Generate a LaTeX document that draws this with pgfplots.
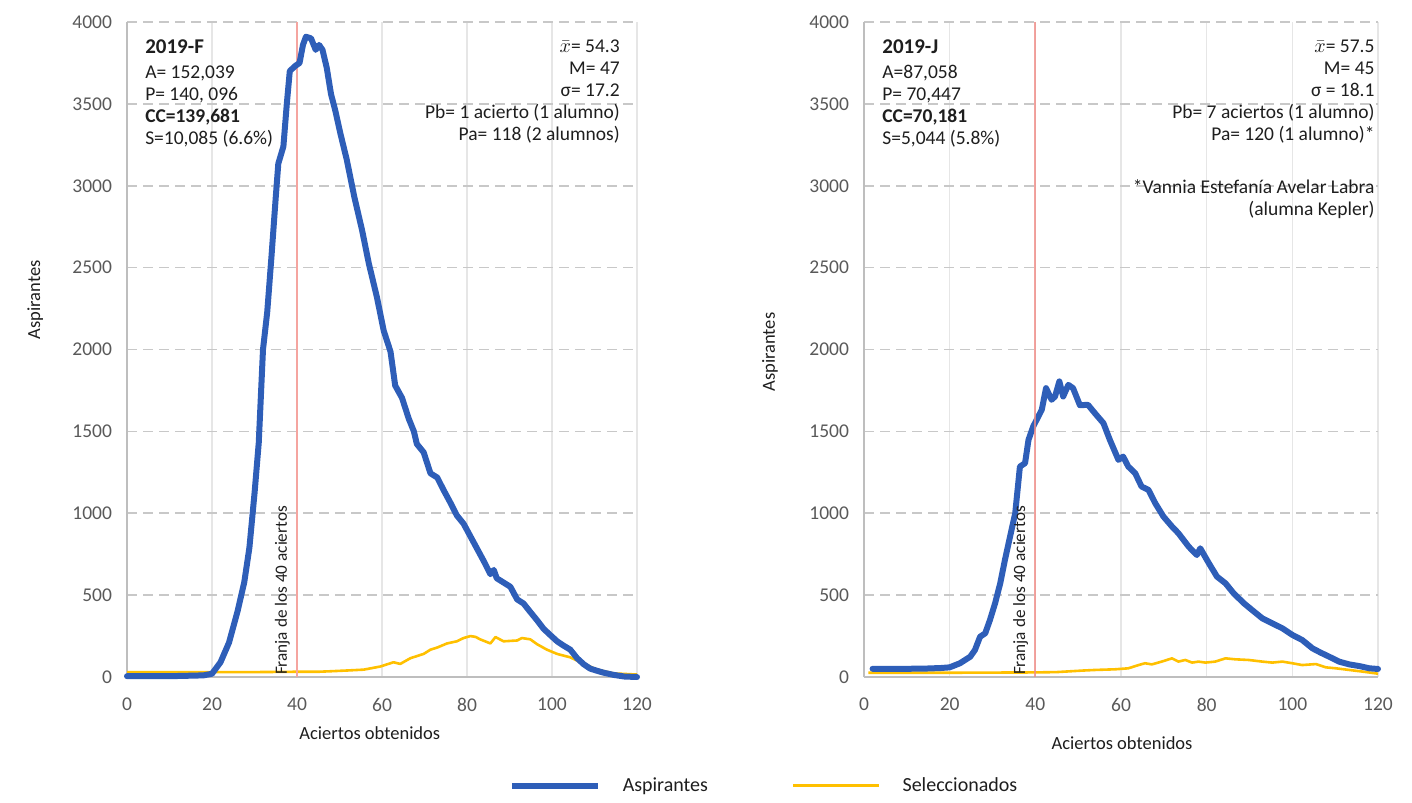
\documentclass[border=0pt]{standalone}
\usepackage{fontspec}
\setmainfont{Carlito}
\usepackage{pgfplots}
\pgfplotsset{compat=1.18}
\definecolor{aspblue}{RGB}{46,94,184}
\definecolor{selyel}{RGB}{255,192,0}
\definecolor{franja}{RGB}{245,165,160}
\definecolor{tickgray}{RGB}{89,89,89}
\definecolor{txt}{RGB}{30,30,30}
\definecolor{gridgray}{RGB}{200,200,200}
\definecolor{vgrid}{RGB}{230,230,230}
\definecolor{axgray}{RGB}{190,190,190}

\tikzset{
  franja text/.style={anchor=south west, rotate=90, inner sep=0pt, font=\fontsize{8.6}{9}\selectfont, text=txt},
  stats/.style={inner sep=0pt, text=txt, font=\fontsize{9.75}{11}\selectfont},
}
\pgfplotsset{
  mystyle/.style={
    scale only axis, height=327.5pt,
    xmin=0, xmax=120, ymin=0, ymax=4000,
    xtick={0,20,...,120}, ytick={0,500,...,4000},
    axis x line*=bottom, axis y line*=left,
    axis line style={-, axgray, line width=1pt},
    major tick length=0pt,
    grid=major,
    x grid style={vgrid, line width=0.7pt},
    y grid style={gridgray, line width=0.8pt, dash pattern=on 5pt off 3pt},
    tick label style={font=\fontsize{9.75}{11}\selectfont, color=tickgray},
    xticklabel style={yshift=-7pt},
    yticklabel style={xshift=-4pt},
    /pgf/number format/assume math mode=true,
    /pgf/number format/set thousands separator={},
    label style={font=\fontsize{9.25}{11}\selectfont, color=txt},
    clip=false,
  },
  blue line/.style={color=aspblue, line width=3pt, line join=round, line cap=round},
  yel line/.style={color=selyel, line width=1.3pt, line join=round},
}

\begin{document}
\begin{tikzpicture}
\path (0,0) rectangle (706pt,398.5pt);

% ---------------- Left: 2019-F ----------------
\begin{axis}[mystyle, width=255pt,
  at={(63.5pt,60pt)}, anchor=south west,
  xlabel={Aciertos obtenidos}, ylabel={Aspirantes},
  xlabel style={at={(axis description cs:0.476,0)}, anchor=center, yshift=-28pt},
  ylabel style={at={(axis description cs:-0.18,0.576)}, anchor=center},
  legend style={at={(1.251,-0.166)}, anchor=center, draw=none, fill=none,
    legend columns=2, font=\fontsize{10}{12}\selectfont, text=txt,
    /tikz/column 1/.style={column sep=9pt},
    /tikz/column 2/.style={column sep=40pt},
    /tikz/column 3/.style={column sep=9pt}},
  legend image code/.code={\draw[#1, line cap=butt] (0pt,0pt) -- (43pt,0pt);},
]
\addplot[yel line, forget plot] coordinates {
(0,30) (10,30) (20,30) (30,30) (40,32) (45,32) (47.8,35) (52,40) (55.7,45)
(59.6,64) (62.7,90) (64.3,80) (66.7,115) (69.8,141) (71.4,167) (73,180)
(75.3,205) (77.6,218) (79.2,238) (80.8,250) (82,245) (83.1,230) (85.5,205)
(86.7,244) (88.6,218) (91.8,223) (92.9,238) (94.9,230) (96.5,200) (98.8,167)
(101.2,141) (104.3,120) (106.7,90) (110.6,45) (114.5,22) (120,15)};
\addplot[color=franja, line width=0.8pt, forget plot] coordinates {(40,0) (40,4000)};
\addplot[blue line] coordinates {
(0,5) (5,5) (10,5) (15,8) (18,10) (20,20) (22,90) (24,210) (26,400)
(27.6,580) (28.8,790) (30,1120) (31,1430) (32,2000) (33,2230) (34,2570)
(35,2930) (35.6,3135) (36.8,3240) (37.6,3500) (38.3,3700) (39.5,3730)
(40.6,3750) (41.4,3860) (42.1,3910) (43.3,3900) (44.4,3830) (45.2,3860)
(46,3830) (47,3720) (48,3560) (49,3460) (50.2,3320) (51.7,3160) (53.5,2930)
(55.3,2730) (56.9,2525) (58.8,2320) (60.4,2115) (62,1987) (63.1,1780)
(64.7,1705) (66.3,1577) (67.5,1500) (68.2,1423) (69.8,1372) (71.4,1244)
(73,1218) (74.5,1141) (76.1,1064) (77.6,987) (79.2,936) (80.8,859)
(82.4,782) (84,705) (85.5,628) (86.3,654) (87,603) (88.6,577) (90.2,551)
(91.8,474) (93.3,449) (94.9,397) (96.5,346) (98,295) (99.6,256) (101.2,218)
(102.7,192) (104.3,167) (105.9,115) (107.5,77) (109,51) (110.6,38)
(112.2,26) (114.5,13) (117,3) (120,0)};
\addlegendentry{Aspirantes}
\addlegendimage{yel line}
\addlegendentry{Seleccionados}
\node[franja text] at (axis cs:38.4,10) {Franja de los 40 aciertos};
\node[stats, anchor=north west, align=left] at (rel axis cs:0.035,0.973)
  {{\fontsize{10.5}{11}\selectfont\textbf{2019-F}}\\[1.5pt]A= 152,039\\P= 140, 096\\\textbf{CC=139,681}\\S=10,085 (6.6\%)};
\node[stats, anchor=north east, align=right] at (rel axis cs:0.967,0.973)
  {$\bar{x}$= 54.3\\M= 47\\σ= 17.2\\Pb= 1 acierto (1 alumno)\\Pa= 118 (2 alumnos)};
\end{axis}

% ---------------- Right: 2019-J ----------------
\begin{axis}[mystyle, width=257pt,
  at={(432pt,60pt)}, anchor=south west,
  xlabel={Aciertos obtenidos}, ylabel={Aspirantes},
  xlabel style={at={(axis description cs:0.502,0)}, anchor=center, yshift=-33pt},
  ylabel style={at={(axis description cs:-0.183,0.496)}, anchor=center},
]
\addplot[yel line, forget plot] coordinates {
(1,26) (20,26) (40,28) (45,30) (50.8,39) (53.9,43) (58.6,47) (61.7,53)
(64.1,73) (65.6,84) (67.2,77) (69.5,94) (71.9,114) (73.4,94) (75,104)
(76.6,88) (78.1,94) (79.7,88) (82,94) (84.4,114) (86.7,108) (89.8,104)
(93,94) (95.3,88) (97.7,94) (100,84) (102.3,73) (105.5,79) (107.8,59)
(110.2,53) (113.3,43) (116.4,33) (119.5,22) (120,20)};
\addplot[blue line, forget plot] coordinates {
(2,50) (5,50) (10,50) (15,52) (18,55) (20,59) (22.4,84) (24.8,124) (25.9,165)
(27.1,246) (28.3,267) (29.4,348) (30.6,450) (31.8,572) (32.9,715) (34.1,858)
(35.3,1000) (36.4,1285) (37.6,1306) (38.4,1448) (39.5,1530) (40.7,1591)
(41.5,1632) (42.5,1764) (43.8,1693) (44.6,1713) (45.6,1805) (46.5,1713)
(47.7,1784) (48.8,1764) (50.4,1660) (52.3,1662) (53.9,1611) (55.9,1550)
(57.4,1448) (59.4,1326) (60.5,1346) (61.7,1285) (63.3,1245) (64.8,1163)
(66.4,1143) (68,1061) (69.9,980) (71.9,919) (73.4,878) (75.8,796) (77.7,745)
(78.5,786) (80.5,695) (82.4,613) (84.4,572) (86.3,511) (88.7,450) (90.6,409)
(93,358) (95.3,328) (97.7,297) (100,257) (102.3,226) (104.7,175) (106.6,149)
(108.6,124) (110.9,94) (113.3,77) (115.6,67) (118,53) (120,49)};
\addplot[draw={rgb,255:red,240;green,140;blue,135}, line width=0.9pt, opacity=0.8, forget plot] coordinates {(40,0) (40,4000)};
\node[franja text] at (axis cs:38.4,10) {Franja de los 40 aciertos};
\node[stats, anchor=north west, align=left] at (rel axis cs:0.035,0.973)
  {{\fontsize{10.5}{11}\selectfont\textbf{2019-J}}\\[1.5pt]A=87,058\\P= 70,447\\\textbf{CC=70,181}\\S=5,044 (5.8\%)};
\node[stats, anchor=north east, align=right] at (rel axis cs:0.994,0.973)
  {$\bar{x}$= 57.5\\M= 45\\σ = 18.1\\Pb= 7 aciertos (1 alumno)\\Pa= 120 (1 alumno)*\\[15.5pt]
   *Vannia Estefanía Avelar Labra\\(alumna Kepler)};
\end{axis}
\end{tikzpicture}
\end{document}
